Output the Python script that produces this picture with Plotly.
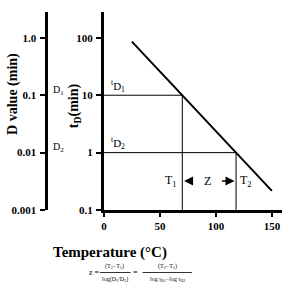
import plotly.graph_objects as go

# ---- data ----
line_temp = [25, 150]          # °C, thermal death time curve end points
line_tD = [86, 0.215]          # min
T1 = 70
T2 = 118
tD1 = 10
tD2 = 1
main_tickvals = [0.1, 1, 10, 100]
main_ticktext = ["0.1", "1", "10", "100"]
left_tickvals = [0.001, 0.01, 0.1, 1.0]
left_ticktext = ["0.001", "0.01", "0.1", "1.0"]
x_tickvals = [0, 50, 100, 150]
x_ticktext = ["0", "50", "100", "150"]

W, H = 283, 290
ML, MR, MT, MB = 0, 1, 12, 80
PW = W - ML - MR
PH = H - MT - MB

def px(x):
    return (x - ML) / PW

def py(y):
    return (MT + PH - y) / PH

def bold(lst):
    return ["<b>%s</b>" % s for s in lst]

serif = "Liberation Serif, Times New Roman, serif"
fig = go.Figure()

# main curve
fig.add_trace(go.Scatter(x=line_temp, y=line_tD, mode="lines",
                         line=dict(color="black", width=2), showlegend=False,
                         hoverinfo="skip"))
# guide lines
fig.add_trace(go.Scatter(x=[0, T1, T1], y=[tD1, tD1, 0.1], mode="lines",
                         line=dict(color="black", width=1), showlegend=False,
                         hoverinfo="skip"))
fig.add_trace(go.Scatter(x=[0, T2, T2], y=[tD2, tD2, 0.1], mode="lines",
                         line=dict(color="black", width=1), showlegend=False,
                         hoverinfo="skip"))
# dummy trace for left axis
fig.add_trace(go.Scatter(x=[None], y=[None], yaxis="y2", showlegend=False))

tickfont = dict(family=serif, size=11, color="black")

fig.update_layout(
    width=W, height=H,
    margin=dict(l=ML, r=MR, t=MT, b=MB),
    paper_bgcolor="white", plot_bgcolor="white",
    showlegend=False,
    xaxis=dict(domain=[px(102), 1], range=[0, 159], showgrid=False, zeroline=False,
               showline=True, linecolor="black", linewidth=3,
               ticks="outside", ticklen=4, tickwidth=2, tickcolor="black",
               tickvals=x_tickvals, ticktext=bold(x_ticktext), tickfont=tickfont,
               anchor="y"),
    yaxis=dict(type="log", range=[-1, 2.45], showgrid=False, zeroline=False,
               showline=True, linecolor="black", linewidth=3,
               ticks="outside", ticklen=5, tickwidth=2, tickcolor="black",
               tickvals=main_tickvals, ticktext=bold(main_ticktext), tickfont=tickfont,
               anchor="x", ticklabelstandoff=1),
    yaxis2=dict(type="log", range=[-3, 0.45], showgrid=False, zeroline=False,
                showline=True, linecolor="black", linewidth=3,
                ticks="outside", ticklen=5, tickwidth=2, tickcolor="black",
                tickvals=left_tickvals, ticktext=bold(left_ticktext), tickfont=tickfont,
                anchor="free", position=px(43), overlaying="y", side="left",
                ticklabelstandoff=1),
)

ann = []
def A(text, x, y, size=11, xref="paper", yref="paper", angle=0, bold=False, xanchor="center", yanchor="middle"):
    ann.append(dict(text=text, x=x, y=y, xref=xref, yref=yref, showarrow=False,
                    textangle=angle, xanchor=xanchor, yanchor=yanchor,
                    font=dict(family=serif, size=size, color="black",
                              weight="bold" if bold else "normal")))

# axis titles
A("<b>D value (min)</b>", px(10), py(94), size=14, angle=-90)
A("<b>t<sub>D</sub>(min)</b>", px(73), py(106), size=14, angle=-90)
A("<b>Temperature (°C)</b>", px(108), py(252), size=15)

# left D labels
A("D<sub>1</sub>", px(49), py(90), size=10, xanchor="left")
A("D<sub>2</sub>", px(49), py(147), size=10, xanchor="left")

# t_D labels in plot
A("<sup>t</sup>D<sub>1</sub>", px(107), py(86), size=11, xanchor="left")
A("<sup>t</sup>D<sub>2</sub>", px(107), py(143), size=11, xanchor="left")

# T1, Z, T2
A("T<sub>1</sub>", px(170), py(181), size=12)
A("Z", px(207), py(181), size=12)
A("T<sub>2</sub>", px(246), py(181), size=12)

# arrows
for (tx, hx) in [(193, 183), (220, 234)]:
    ann.append(dict(x=px(hx), y=py(181), ax=tx - hx, ay=0,
                    xref="paper", yref="paper", axref="pixel", ayref="pixel",
                    text="", showarrow=True, arrowhead=2, arrowsize=1.2,
                    arrowwidth=1.5, arrowcolor="black"))

# formula
fs = 6
A("z =", px(92), py(272), size=8)
A("(T<sub>2</sub>−T<sub>1</sub>)", px(113), py(266), size=fs)
A("log(D<sub>1</sub>/D<sub>2</sub>)", px(113), py(279), size=fs)
A("=", px(134), py(272), size=8)
A("(T<sub>2</sub>−T<sub>1</sub>)", px(166), py(266), size=fs)
A("log t<sub>D1</sub>−log t<sub>D2</sub>", px(166), py(279), size=fs)

fig.update_layout(annotations=ann)

# fraction bars
for (x0, x1) in [(98, 129), (141, 191)]:
    fig.add_shape(type="line", xref="paper", yref="paper",
                  x0=px(x0), x1=px(x1), y0=py(272.5), y1=py(272.5),
                  line=dict(color="black", width=0.8))

fig.write_html("out.html")
